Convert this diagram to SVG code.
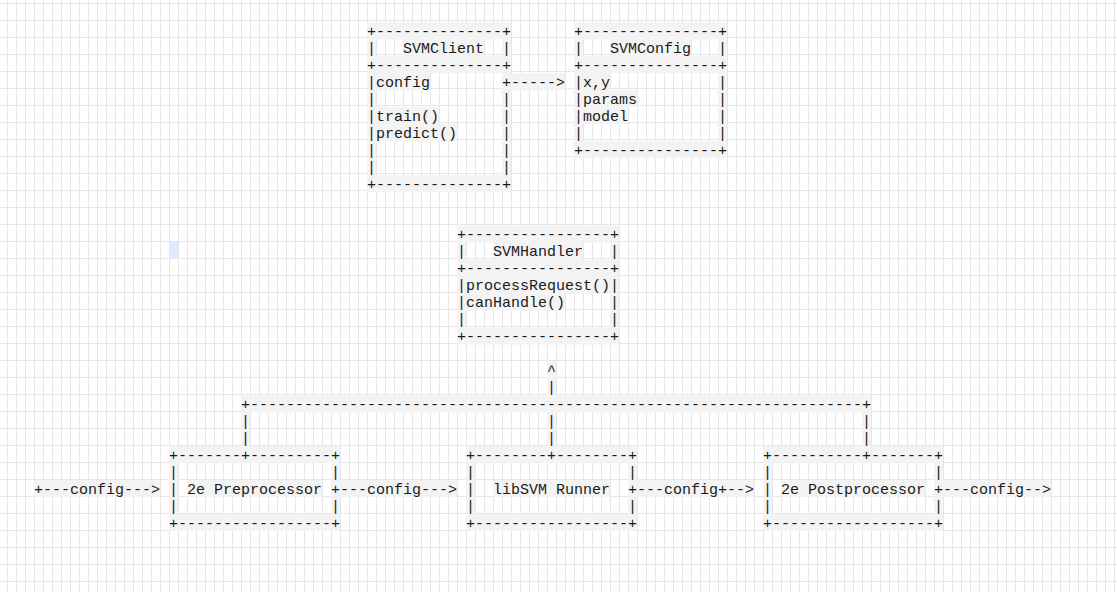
<svg xmlns="http://www.w3.org/2000/svg" width="1117" height="592" viewBox="0 0 1117 592">
  <defs>
    <!-- 9 x 17 cell grid, one cell per character -->
    <pattern id="grid" x="7" y="3" width="9" height="17" patternUnits="userSpaceOnUse">
      <path d="M0.5 0V17M0 0.5H9" fill="none" stroke="#e7e7e7" stroke-width="1"/>
    </pattern>
  </defs>
  <style>
    .bg { fill: #f3f3f3; }
    text { font-family: "Liberation Mono", "DejaVu Sans Mono", monospace; font-size: 15px; fill: #1a1a1a; }
  </style>

  <rect width="1117" height="592" fill="#ffffff"/>
  <rect width="1117" height="592" fill="url(#grid)"/>

  <!-- character cells: column c starts at x = 34.5 + 9c, shifted onto whole pixels -->
  <g transform="translate(-0.5 0)">

  <!-- caret cell -->
  <rect x="169.5" y="242" width="9" height="17" fill="#dcebfd"/>

  <!-- SVMClient -->
  <g id="svm-client">
    <rect class="bg" x="367.5" y="22.5" width="144" height="17"/>
    <rect class="bg" x="367.5" y="56.4" width="144" height="17"/>
    <rect class="bg" x="367.5" y="175.05" width="144" height="17"/>
    <rect class="bg" x="367.5" y="39.45" width="9" height="135.6"/>
    <rect class="bg" x="502.5" y="39.45" width="9" height="135.6"/>
    <rect class="bg" x="403.5" y="39.45" width="81" height="17"/>
    <rect class="bg" x="376.5" y="73.35" width="54" height="17"/>
    <rect class="bg" x="376.5" y="107.25" width="63" height="17"/>
    <rect class="bg" x="376.5" y="124.2" width="81" height="17"/>
    <text x="367.5" y="36">+--------------+</text>
    <text y="52.95"><tspan x="367.5">|</tspan><tspan x="403.5">SVMClient</tspan><tspan x="502.5">|</tspan></text>
    <text x="367.5" y="69.9">+--------------+</text>
    <text y="86.85"><tspan x="367.5">|config</tspan><tspan x="502.5">+</tspan></text>
    <text y="103.8"><tspan x="367.5">|</tspan><tspan x="502.5">|</tspan></text>
    <text y="120.75"><tspan x="367.5">|train()</tspan><tspan x="502.5">|</tspan></text>
    <text y="137.7"><tspan x="367.5">|predict()</tspan><tspan x="502.5">|</tspan></text>
    <text y="154.65"><tspan x="367.5">|</tspan><tspan x="502.5">|</tspan></text>
    <text y="171.6"><tspan x="367.5">|</tspan><tspan x="502.5">|</tspan></text>
    <text x="367.5" y="188.55">+--------------+</text>
  </g>

  <!-- SVMConfig -->
  <g id="svm-config">
    <rect class="bg" x="574.5" y="22.5" width="153" height="17"/>
    <rect class="bg" x="574.5" y="56.4" width="153" height="17"/>
    <rect class="bg" x="574.5" y="141.15" width="153" height="17"/>
    <rect class="bg" x="574.5" y="39.45" width="9" height="101.7"/>
    <rect class="bg" x="718.5" y="39.45" width="9" height="101.7"/>
    <rect class="bg" x="610.5" y="39.45" width="81" height="17"/>
    <rect class="bg" x="583.5" y="73.35" width="27" height="17"/>
    <rect class="bg" x="583.5" y="90.3" width="54" height="17"/>
    <rect class="bg" x="583.5" y="107.25" width="45" height="17"/>
    <text x="574.5" y="36">+---------------+</text>
    <text y="52.95"><tspan x="574.5">|</tspan><tspan x="610.5">SVMConfig</tspan><tspan x="718.5">|</tspan></text>
    <text x="574.5" y="69.9">+---------------+</text>
    <text y="86.85"><tspan x="574.5">|x,y</tspan><tspan x="718.5">|</tspan></text>
    <text y="103.8"><tspan x="574.5">|params</tspan><tspan x="718.5">|</tspan></text>
    <text y="120.75"><tspan x="574.5">|model</tspan><tspan x="718.5">|</tspan></text>
    <text y="137.7"><tspan x="574.5">|</tspan><tspan x="718.5">|</tspan></text>
    <text x="574.5" y="154.65">+---------------+</text>
  </g>

  <!-- SVMHandler -->
  <g id="svm-handler">
    <rect class="bg" x="457.5" y="225.9" width="162" height="17"/>
    <rect class="bg" x="457.5" y="259.8" width="162" height="17"/>
    <rect class="bg" x="457.5" y="276.75" width="162" height="17"/>
    <rect class="bg" x="457.5" y="327.6" width="162" height="17"/>
    <rect class="bg" x="457.5" y="242.85" width="9" height="84.75"/>
    <rect class="bg" x="610.5" y="242.85" width="9" height="84.75"/>
    <rect class="bg" x="493.5" y="242.85" width="90" height="17"/>
    <rect class="bg" x="466.5" y="293.7" width="99" height="17"/>
    <text x="457.5" y="239.4">+----------------+</text>
    <text y="256.35"><tspan x="457.5">|</tspan><tspan x="493.5">SVMHandler</tspan><tspan x="610.5">|</tspan></text>
    <text x="457.5" y="273.3">+----------------+</text>
    <text x="457.5" y="290.25">|processRequest()|</text>
    <text y="307.2"><tspan x="457.5">|canHandle()</tspan><tspan x="610.5">|</tspan></text>
    <text y="324.15"><tspan x="457.5">|</tspan><tspan x="610.5">|</tspan></text>
    <text x="457.5" y="341.1">+----------------+</text>
  </g>

  <!-- 2e Preprocessor -->
  <g id="preprocessor">
    <rect class="bg" x="169.5" y="446.25" width="171" height="17"/>
    <rect class="bg" x="169.5" y="514.05" width="171" height="17"/>
    <rect class="bg" x="169.5" y="463.2" width="9" height="50.85"/>
    <rect class="bg" x="331.5" y="463.2" width="9" height="50.85"/>
    <rect class="bg" x="187.5" y="480.15" width="135" height="17"/>
    <text x="169.5" y="459.75">+-------+---------+</text>
    <text y="476.7"><tspan x="169.5">|</tspan><tspan x="331.5">|</tspan></text>
    <text y="493.65"><tspan x="169.5">|</tspan><tspan x="187.5">2e Preprocessor</tspan><tspan x="331.5">+</tspan></text>
    <text y="510.6"><tspan x="169.5">|</tspan><tspan x="331.5">|</tspan></text>
    <text x="169.5" y="527.55">+-----------------+</text>
  </g>

  <!-- libSVM Runner -->
  <g id="libsvm-runner">
    <rect class="bg" x="466.5" y="446.25" width="171" height="17"/>
    <rect class="bg" x="466.5" y="514.05" width="171" height="17"/>
    <rect class="bg" x="466.5" y="463.2" width="9" height="50.85"/>
    <rect class="bg" x="628.5" y="463.2" width="9" height="50.85"/>
    <rect class="bg" x="493.5" y="480.15" width="117" height="17"/>
    <text x="466.5" y="459.75">+--------+--------+</text>
    <text y="476.7"><tspan x="466.5">|</tspan><tspan x="628.5">|</tspan></text>
    <text y="493.65"><tspan x="466.5">|</tspan><tspan x="493.5">libSVM Runner</tspan><tspan x="628.5">+</tspan></text>
    <text y="510.6"><tspan x="466.5">|</tspan><tspan x="628.5">|</tspan></text>
    <text x="466.5" y="527.55">+-----------------+</text>
  </g>

  <!-- 2e Postprocessor -->
  <g id="postprocessor">
    <rect class="bg" x="763.5" y="446.25" width="180" height="17"/>
    <rect class="bg" x="763.5" y="514.05" width="180" height="17"/>
    <rect class="bg" x="763.5" y="463.2" width="9" height="50.85"/>
    <rect class="bg" x="934.5" y="463.2" width="9" height="50.85"/>
    <rect class="bg" x="781.5" y="480.15" width="144" height="17"/>
    <text x="763.5" y="459.75">+----------+-------+</text>
    <text y="476.7"><tspan x="763.5">|</tspan><tspan x="934.5">|</tspan></text>
    <text y="493.65"><tspan x="763.5">|</tspan><tspan x="781.5">2e Postprocessor</tspan><tspan x="934.5">+</tspan></text>
    <text y="510.6"><tspan x="763.5">|</tspan><tspan x="934.5">|</tspan></text>
    <text x="763.5" y="527.55">+------------------+</text>
  </g>

  <!-- connectors -->
  <g id="connectors">
    <!-- SVMClient.config -> SVMConfig -->
    <rect class="bg" x="511.5" y="73.35" width="54" height="17"/>
    <text x="511.5" y="86.85">-----&gt;</text>

    <!-- stages up to SVMHandler -->
    <rect class="bg" x="547.5" y="361.5" width="9" height="33.9"/>
    <rect class="bg" x="241.5" y="395.4" width="630" height="17"/>
    <rect class="bg" x="241.5" y="412.35" width="9" height="33.9"/>
    <rect class="bg" x="547.5" y="412.35" width="9" height="33.9"/>
    <rect class="bg" x="862.5" y="412.35" width="9" height="33.9"/>
    <text x="547.5" y="375">^</text>
    <text x="547.5" y="391.95">|</text>
    <text x="241.5" y="408.9">+--------------------------------------------------------------------+</text>
    <text y="425.85"><tspan x="241.5">|</tspan><tspan x="547.5">|</tspan><tspan x="862.5">|</tspan></text>
    <text y="442.8"><tspan x="241.5">|</tspan><tspan x="547.5">|</tspan><tspan x="862.5">|</tspan></text>

    <!-- config pipeline -->
    <rect class="bg" x="34.5" y="480.15" width="126" height="17"/>
    <rect class="bg" x="340.5" y="480.15" width="117" height="17"/>
    <rect class="bg" x="637.5" y="480.15" width="117" height="17"/>
    <rect class="bg" x="943.5" y="480.15" width="108" height="17"/>
    <text x="34.5" y="493.65">+---config---&gt;</text>
    <text x="340.5" y="493.65">---config---&gt;</text>
    <text x="637.5" y="493.65">---config+--&gt;</text>
    <text x="943.5" y="493.65">---config--&gt;</text>
  </g>

  </g>
</svg>
